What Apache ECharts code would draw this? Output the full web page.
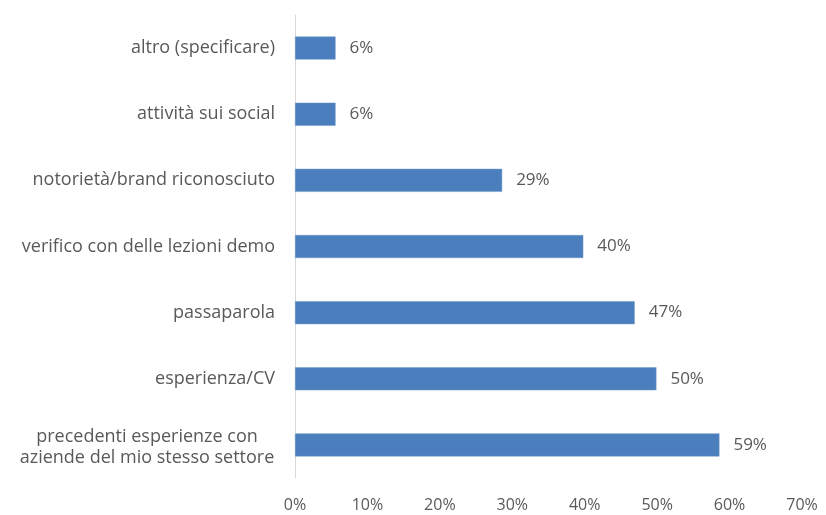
<!DOCTYPE html>
<html>
<head>
<meta charset="utf-8">
<script src="https://cdn.jsdelivr.net/npm/echarts@6/dist/echarts.min.js"></script>
<style>
  html, body { margin: 0; padding: 0; background: #fff; }
  #chart { width: 826px; height: 515px; }
</style>
</head>
<body>
<div id="chart"></div>
<script>
// categories from bottom to top (category axis starts at the bottom)
var categories = [
    'precedenti esperienze con\naziende del mio stesso settore',
    'esperienza/CV',
    'passaparola',
    'verifico con delle lezioni demo',
    'notorietà/brand riconosciuto',
    'attività sui social',
    'altro (specificare)'
];
// percentages
var values = [58.6, 49.9, 46.9, 39.8, 28.6, 5.6, 5.6];
var tickLabels = ['0%', '10%', '20%', '30%', '40%', '50%', '60%', '70%'];

var textColor = '#595959';
var fontFam = '"Open Sans", sans-serif';

var myChart = echarts.init(document.getElementById('chart'));
var option = {
    backgroundColor: '#ffffff',
    animation: false,
    grid: {
        left: 295,
        right: 24,
        top: 15,
        bottom: 37,
        containLabel: false
    },
    xAxis: {
        type: 'value',
        min: 0,
        max: 70,
        interval: 10,
        axisLine: { show: false },
        axisTick: { show: false },
        splitLine: { show: false },
        axisLabel: {
            color: textColor,
            fontFamily: fontFam,
            fontSize: 16,
            margin: 19,
            formatter: function (v) {
                return tickLabels[Math.round(v / 10)];
            }
        }
    },
    yAxis: {
        type: 'category',
        data: categories,
        axisLine: { show: true, lineStyle: { color: '#d9d9d9', width: 1 } },
        axisTick: { show: false },
        axisLabel: {
            color: textColor,
            fontFamily: fontFam,
            fontSize: 18,
            margin: 20,
            lineHeight: 25,
            formatter: function (v) {
                if (v.indexOf('\n') >= 0) {
                    var parts = v.split('\n');
                    return '{t|' + parts[0] + '}\n{c|' + parts[1] + '}';
                }
                return v;
            },
            rich: {
                t: {
                    width: 256,
                    align: 'center',
                    color: textColor,
                    fontFamily: fontFam,
                    fontSize: 18,
                    lineHeight: 25,
                    padding: [8, 0, 0, 0]
                },
                c: {
                    width: 256,
                    align: 'center',
                    color: textColor,
                    fontFamily: fontFam,
                    fontSize: 18,
                    lineHeight: 25
                }
            }
        }
    },
    series: [{
        type: 'bar',
        data: values,
        barWidth: 23,
        itemStyle: {
            color: '#4a7ebd',
            borderColor: '#6f98c9',
            borderWidth: 0.5
        },
        label: {
            show: true,
            position: 'right',
            distance: 14,
            color: textColor,
            fontFamily: fontFam,
            fontSize: 17,
            formatter: function (p) {
                return Math.round(p.value) + '%';
            }
        }
    }]
};
myChart.setOption(option);
</script>
</body>
</html>
